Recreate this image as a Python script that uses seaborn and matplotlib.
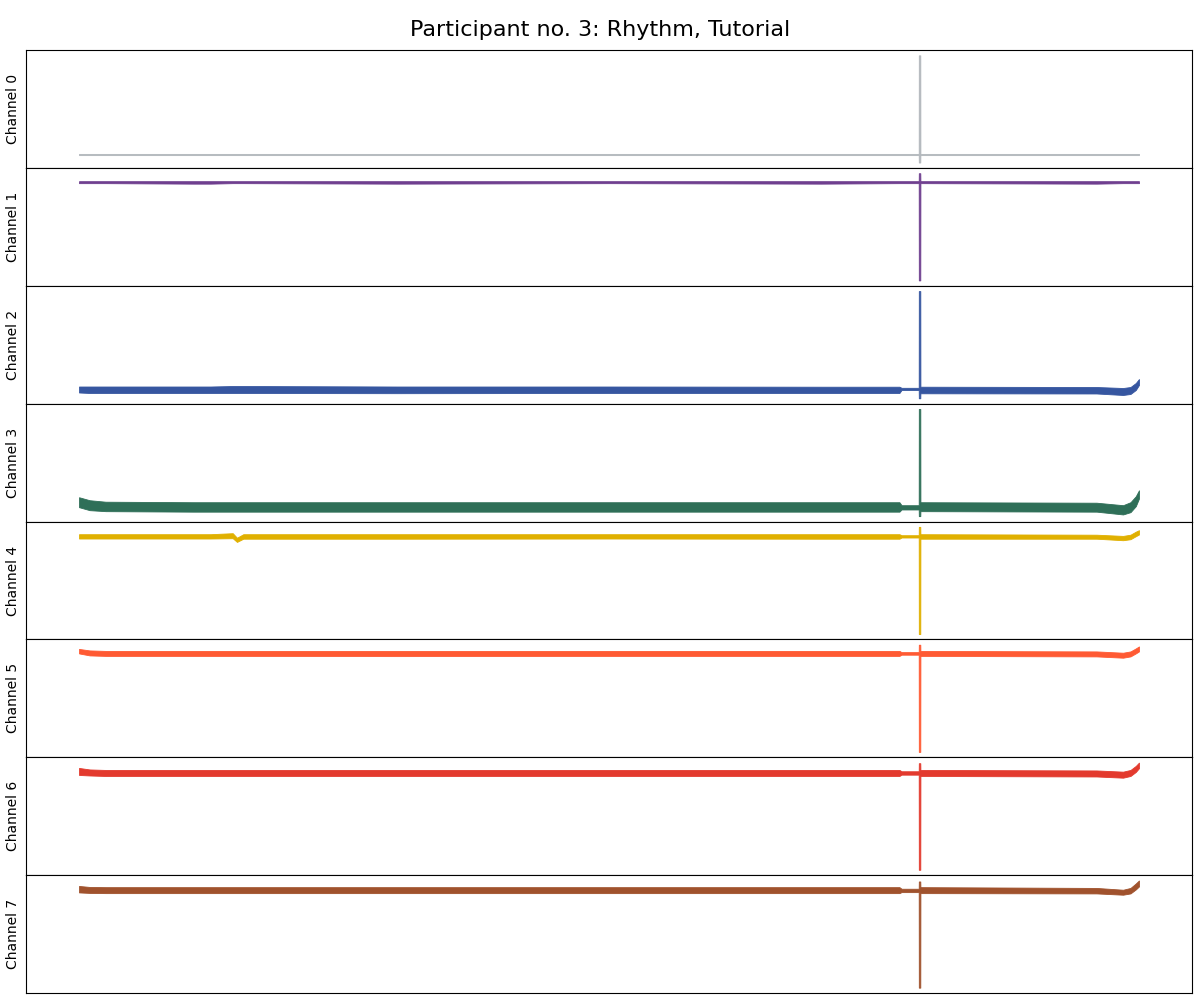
import matplotlib
matplotlib.use("Agg")
import matplotlib.pyplot as plt
import numpy as np
import pandas as pd
import seaborn as sns

# sample position (0-1000 across the recording) and lower/upper envelope per channel
x_pos = [0, 10, 25, 108, 124, 145, 149, 155, 300, 500, 700, 774, 776, 792.2,
         792.3, 793.7, 793.8, 960, 985, 992, 997, 1000]

ch0_lo = [13.4, 13.4, 13.4, 13.4, 13.4, 13.4, 13.4, 13.4, 13.4, 13.4, 13.4, 13.4, 13.4, 13.4,
          6, 6, 13.4, 13.4, 13.4, 13.4, 13.4, 13.4]
ch0_hi = [14.6, 14.6, 14.6, 14.6, 14.6, 14.6, 14.6, 14.6, 14.6, 14.6, 14.6, 14.6, 14.6, 14.6,
          113, 113, 14.6, 14.6, 14.6, 14.6, 14.6, 14.6]

ch1_lo = [104, 104, 104, 103.5, 103.5, 104, 104, 104, 103.5, 104, 103.5, 104, 104, 104,
          6, 6, 104, 103.5, 104, 104, 104, 104]
ch1_hi = [106, 106, 106, 106, 106, 106, 106, 106, 106, 106, 106, 106, 106, 106,
          114, 114, 106, 106, 106, 106, 106, 106]

ch2_lo = [11.5, 11, 11, 11, 11, 11, 11, 11, 10.8, 11, 11, 11, 14, 14,
          5.7, 5.7, 10.7, 10.5, 9, 10, 14, 19]
ch2_hi = [17.5, 17.5, 17.5, 17.5, 17.5, 18, 18, 18, 17.5, 17.5, 17.3, 17.3, 16.2, 16.2,
          113.3, 113.3, 17.3, 17, 16, 17, 21, 25]

ch3_lo = [15, 12, 11, 10.5, 10.5, 10.5, 10.5, 10.5, 10.5, 10.5, 10.5, 10.5, 12.7, 12.7,
          6, 6, 11, 10.5, 7.7, 10, 16, 23.7]
ch3_hi = [25, 22, 20.5, 20, 20, 20, 20, 20, 20, 20, 20, 20, 17, 17,
          113.7, 113.7, 20, 19.5, 17, 20, 26, 32]

ch4_lo = [100.7, 100.7, 100.7, 100.7, 100.7, 101, 97.3, 100.5, 100.5, 100.7, 100.5, 100.5, 101.7, 101.7,
          5.7, 5.7, 100.5, 100.5, 99, 100, 103, 104.7]
ch4_hi = [105, 105, 105, 105, 105, 106, 101.5, 105, 105, 105, 105, 105, 104, 104,
          112.3, 112.3, 105, 104.5, 103.3, 104.5, 107.5, 109]

ch5_lo = [104, 102, 101.5, 101.5, 101.5, 101.5, 101.5, 101.5, 101.3, 101.5, 101.5, 101.5, 102.7, 102.7,
          5.3, 5.3, 101.5, 101, 99.7, 101, 104, 106]
ch5_hi = [108.5, 107, 106.5, 106.5, 106.5, 106.5, 106.5, 106.5, 106.5, 106.5, 106.5, 106.5, 105.3, 105.3,
          112.7, 112.7, 106.5, 106, 104.7, 106, 109, 111]

ch6_lo = [100, 99.5, 99, 99, 99, 99, 99, 99, 99, 99, 99, 99, 100.3, 100.3,
          5.7, 5.7, 99, 98.5, 97.3, 99, 103, 106.7]
ch6_hi = [107, 105.5, 105, 105, 105, 105, 105, 105, 105, 105, 105, 105, 103.7, 103.7,
          111.7, 111.7, 105, 104.5, 103.3, 105, 109, 112.3]

ch7_lo = [101, 100.5, 100.3, 100.3, 100.3, 100.3, 100.3, 100.3, 100.3, 100.3, 100.3, 100.3, 101.3, 101.3,
          5.3, 5.3, 100.3, 100, 98.7, 100, 104, 107]
ch7_hi = [107.5, 106.5, 106.3, 106.3, 106.3, 106.3, 106.3, 106.3, 106.3, 106.3, 106.3, 106.3, 104.7, 104.7,
          112, 112, 106.3, 105.5, 103.7, 105.5, 110, 113]

channels = [
    ("Channel 0", ch0_lo, ch0_hi),
    ("Channel 1", ch1_lo, ch1_hi),
    ("Channel 2", ch2_lo, ch2_hi),
    ("Channel 3", ch3_lo, ch3_hi),
    ("Channel 4", ch4_lo, ch4_hi),
    ("Channel 5", ch5_lo, ch5_hi),
    ("Channel 6", ch6_lo, ch6_hi),
    ("Channel 7", ch7_lo, ch7_hi),
]
colors = ["#b2b7bc", "#6f3f8f", "#3656a0", "#2f6f58", "#e0b000", "#ff5a33", "#e33a2e", "#a0522d"]

fig, axes = plt.subplots(8, 1, figsize=(12, 10), sharex=True)
fig.subplots_adjust(left=0.0217, right=0.9933, top=0.95, bottom=0.007, hspace=0)

for ax, (name, lo, hi), color in zip(axes, channels, colors):
    df = pd.DataFrame({"x": np.r_[x_pos, x_pos], "y": np.r_[lo, hi]})
    # only the min-max band is drawn; the mean line is hidden
    sns.lineplot(data=df, x="x", y="y", estimator="mean", errorbar=("pi", 100),
                 color=color, lw=0, err_kws={"alpha": 1, "linewidth": 0.6},
                 legend=False, ax=ax)
    ax.set_xticks([])
    ax.set_yticks([])
    ax.set_xlabel("")
    ax.set_ylabel(name, fontsize=10)
    for s in ax.spines.values():
        s.set_color("black")

fig.suptitle("Participant no. 3: Rhythm, Tutorial", fontsize=16, y=0.98)
fig.savefig("out.png", dpi=100)
